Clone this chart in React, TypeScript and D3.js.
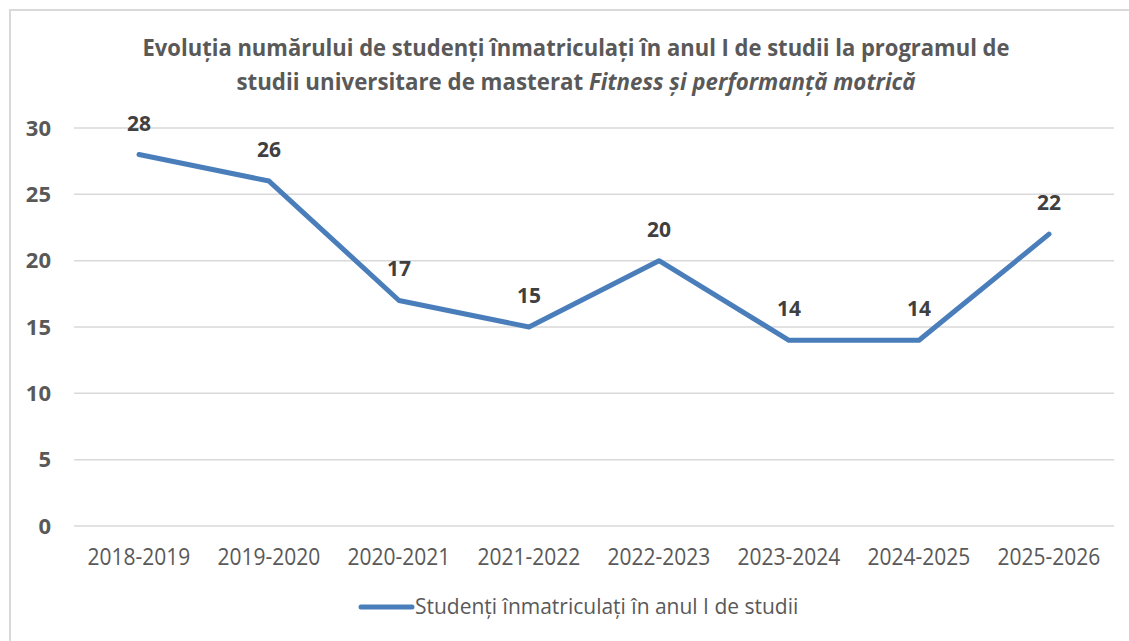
import React, { useEffect, useRef } from "react";
import * as d3 from "d3";

const categories = ["2018-2019", "2019-2020", "2020-2021", "2021-2022", "2022-2023", "2023-2024", "2024-2025", "2025-2026"];
const values = [28, 26, 17, 15, 20, 14, 14, 22];
const yTicks = [0, 5, 10, 15, 20, 25, 30];
const seriesName = "Studenți înmatriculați în anul I de studii";
const titleLine1 = "Evoluția numărului de studenți înmatriculați în anul I de studii la programul de";
const titleLine2a = "studii universitare de masterat ";
const titleLine2b = "Fitness și performanță motrică";

const W = 1129;
const H = 641;
const FONT = "'Open Sans', sans-serif";

export default function App() {
  const ref = useRef<SVGSVGElement>(null);
  useEffect(() => {
    const svg = d3.select(ref.current);
    svg.selectAll("*").remove();

    const left = 74, right = 1114, top = 128, bottom = 526;
    const x = d3.scaleBand<string>().domain(categories).range([left, right]);
    const y = d3.scaleLinear().domain([0, 30]).range([bottom, top]);

    svg.append("rect").attr("x", 0).attr("y", 0).attr("width", W).attr("height", H).attr("fill", "#fff");
    svg.append("rect").attr("x", 10).attr("y", 10).attr("width", W + 20).attr("height", H + 20)
      .attr("fill", "none").attr("stroke", "#d9d9d9").attr("stroke-width", 2);

    const txt = (g: any, tx: number, ty: number, sy: number) =>
      g.append("text").attr("transform", `translate(${tx},${ty}) scale(1,${sy})`).attr("font-family", FONT);

    // title
    txt(svg, 576, 56, 1.05).attr("text-anchor", "middle").attr("font-size", 22).attr("font-weight", 700)
      .attr("fill", "#595959").text(titleLine1);
    const t2 = txt(svg, 576, 90, 1.05).attr("text-anchor", "middle").attr("font-size", 22.3).attr("font-weight", 700)
      .attr("fill", "#595959");
    t2.append("tspan").text(titleLine2a);
    t2.append("tspan").attr("font-style", "italic").text(titleLine2b);

    // grid
    svg.append("g").selectAll("line").data(yTicks).join("line")
      .attr("x1", left).attr("x2", right)
      .attr("y1", (d) => y(d)).attr("y2", (d) => y(d))
      .attr("stroke", "#d9d9d9").attr("stroke-width", 1.5);

    // y labels
    yTicks.forEach((d) => {
      txt(svg, 51, y(d) + 7.5, 1.0).attr("text-anchor", "end").attr("font-size", 22).attr("font-weight", 700)
        .attr("fill", "#595959").text(String(d));
    });

    // x labels
    categories.forEach((c) => {
      txt(svg, x(c)! + x.bandwidth() / 2, 565, 1.1).attr("text-anchor", "middle").attr("font-size", 21)
        .attr("fill", "#595959").text(c);
    });

    // line
    const line = d3.line<number>()
      .x((_, i) => x(categories[i])! + x.bandwidth() / 2)
      .y((d) => y(d));
    svg.append("path").datum(values).attr("d", line).attr("fill", "none")
      .attr("stroke", "#4a7ebb").attr("stroke-width", 5).attr("stroke-linecap", "round").attr("stroke-linejoin", "round");

    // data labels
    values.forEach((v, i) => {
      txt(svg, x(categories[i])! + x.bandwidth() / 2, y(v) - 24, 1.05).attr("text-anchor", "middle")
        .attr("font-size", 21).attr("font-weight", 700).attr("fill", "#404040").text(String(v));
    });

    // legend
    svg.append("line").attr("x1", 361).attr("x2", 412).attr("y1", 607).attr("y2", 607)
      .attr("stroke", "#4a7ebb").attr("stroke-width", 5).attr("stroke-linecap", "round");
    txt(svg, 415, 614, 1.08).attr("font-size", 21).attr("fill", "#595959").text(seriesName);
  }, []);

  return (
    <svg ref={ref} width={W} height={H} style={{ position: "absolute", left: 0, top: 0 }} />
  );
}
